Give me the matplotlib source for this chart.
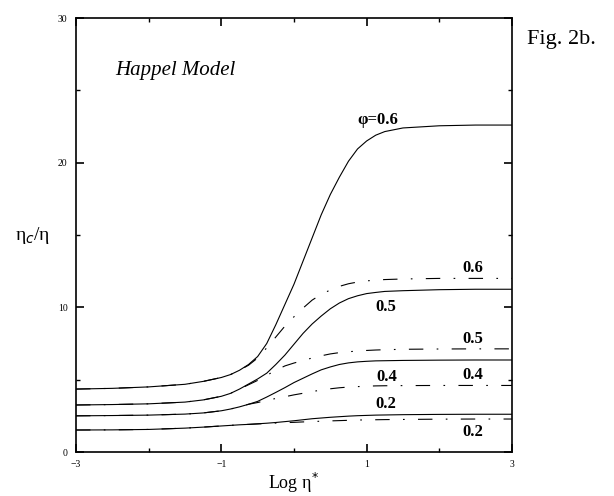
import matplotlib.pyplot as plt
from matplotlib.ticker import MultipleLocator

plt.rcParams["font.family"] = ["Liberation Serif", "DejaVu Serif"]

# log eta* sample points
log_eta = [-3, -2.5, -2, -1.5, -1.25, -1, -0.875, -0.75, -0.625, -0.5, -0.375,
           -0.25, -0.125, 0, 0.125, 0.25, 0.375, 0.5, 0.625, 0.75, 0.875, 1,
           1.125, 1.25, 1.5, 2, 2.5, 3]

# solid curves
solid_06 = [4.35, 4.4, 4.5, 4.68, 4.88, 5.15, 5.35, 5.65, 6.05, 6.6, 7.5, 8.8,
            10.2, 11.6, 13.2, 14.8, 16.4, 17.8, 19.0, 20.1, 20.95, 21.5, 21.9,
            22.15, 22.4, 22.55, 22.6, 22.6]
solid_05 = [3.25, 3.28, 3.33, 3.45, 3.6, 3.85, 4.05, 4.35, 4.7, 5.05, 5.45,
            6.05, 6.7, 7.45, 8.2, 8.85, 9.4, 9.9, 10.3, 10.6, 10.8, 10.95,
            11.03, 11.1, 11.15, 11.22, 11.25, 11.25]
solid_04 = [2.5, 2.52, 2.55, 2.62, 2.7, 2.85, 2.97, 3.12, 3.3, 3.5, 3.8, 4.12,
            4.45, 4.8, 5.1, 5.4, 5.68, 5.88, 6.05, 6.16, 6.23, 6.27, 6.3,
            6.31, 6.33, 6.35, 6.36, 6.36]
solid_02 = [1.52, 1.53, 1.56, 1.65, 1.72, 1.8, 1.84, 1.88, 1.91, 1.95, 1.99,
            2.04, 2.1, 2.16, 2.23, 2.3, 2.35, 2.4, 2.44, 2.48, 2.51, 2.53,
            2.55, 2.56, 2.58, 2.6, 2.61, 2.61]

# dash-dot curves
dash_06 = [4.35, 4.4, 4.5, 4.68, 4.88, 5.15, 5.35, 5.65, 6.0, 6.5, 7.2, 7.95,
           8.7, 9.35, 9.95, 10.5, 10.9, 11.2, 11.45, 11.63, 11.75, 11.83,
           11.88, 11.92, 11.96, 12.0, 12.0, 12.0]
dash_05 = [3.25, 3.28, 3.33, 3.45, 3.6, 3.85, 4.05, 4.35, 4.65, 4.95, 5.3,
           5.65, 5.95, 6.15, 6.32, 6.5, 6.65, 6.78, 6.87, 6.93, 6.98, 7.02,
           7.05, 7.07, 7.1, 7.12, 7.13, 7.13]
dash_04 = [2.5, 2.52, 2.55, 2.62, 2.7, 2.85, 2.97, 3.12, 3.3, 3.42, 3.57, 3.7,
           3.82, 3.95, 4.06, 4.18, 4.28, 4.37, 4.44, 4.49, 4.52, 4.55, 4.57,
           4.58, 4.59, 4.6, 4.6, 4.6]
dash_02 = [1.52, 1.53, 1.56, 1.65, 1.72, 1.8, 1.84, 1.88, 1.91, 1.94, 1.97,
           2.0, 2.03, 2.05, 2.08, 2.1, 2.13, 2.15, 2.17, 2.19, 2.21, 2.22,
           2.23, 2.24, 2.25, 2.27, 2.28, 2.28]

# curve labels: text, x, y
labels = [("φ=0.6", 1.16, 22.95), ("0.6", 2.46, 12.7), ("0.5", 1.27, 10.0),
          ("0.5", 2.46, 7.8), ("0.4", 1.27, 5.2), ("0.4", 2.46, 5.3),
          ("0.2", 1.27, 3.3), ("0.2", 2.46, 1.4)]

fig = plt.figure(figsize=(6.14, 4.96), dpi=100)
ax = fig.add_axes([0.1238, 0.0887, 0.7100, 0.8750])

for y in [solid_06, solid_05, solid_04, solid_02]:
    ax.plot(log_eta, y, color="black", lw=0.8)
for y in [dash_06, dash_05, dash_04, dash_02]:
    ax.plot(log_eta, y, color="black", lw=0.8, dashes=(13, 12, 1.5, 12))

for txt, x, y in labels:
    ax.text(x, y, txt, ha="center", va="center", fontsize=12, fontweight="bold")

ax.text(-2.46, 26.4, "Happel Model", style="italic", fontsize=15, va="center")

ax.set_xlim(-3, 3)
ax.set_ylim(0, 30)
ax.set_xticks([-3, -1, 1, 3])
ax.set_yticks([0, 10, 20, 30])
ax.xaxis.set_minor_locator(MultipleLocator(1))
ax.yaxis.set_minor_locator(MultipleLocator(5))
ax.tick_params(which="both", direction="in", top=True, right=True,
               labelsize=7, pad=6)
ax.tick_params(which="major", length=6, width=1.2)
ax.tick_params(which="minor", length=3, width=1)
for s in ax.spines.values():
    s.set_linewidth(1.2)

ax.set_xlabel("Log η$^{*}$", fontsize=13, labelpad=1)
ax.set_ylabel("η$_c$/η", fontsize=14, rotation=0, labelpad=18, va="center")

fig.text(0.858, 0.92, "Fig. 2b.", fontsize=16, va="center")

fig.savefig("out.png", dpi=100)
